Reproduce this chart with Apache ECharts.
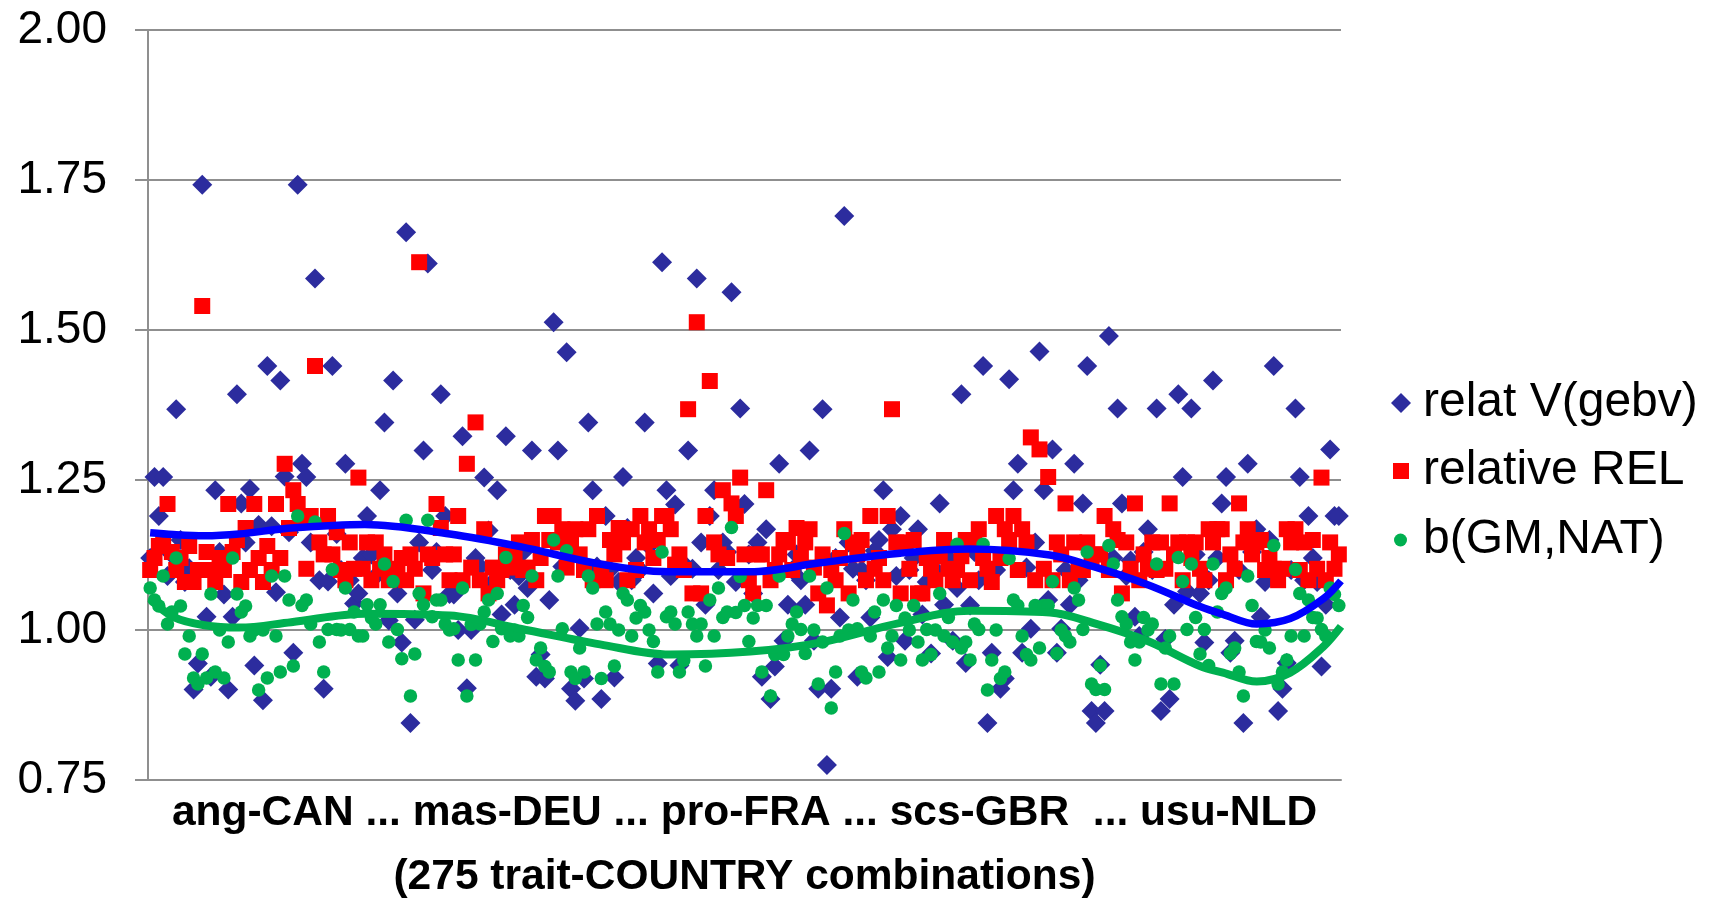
<!DOCTYPE html>
<html><head><meta charset="utf-8">
<script src="https://cdn.jsdelivr.net/npm/echarts/dist/echarts.min.js"></script>
<style>html,body{margin:0;padding:0;background:#fff}#c{width:1717px;height:898px}</style>
</head><body><div id="c"></div>
<script>
const xLabelText = 'ang-CAN ... mas-DEU ... pro-FRA ... scs-GBR  ... usu-NLD';
const xTitleText = '(275 trait-COUNTRY combinations)';
const seriesNames = ['relat V(gebv)', 'relative REL', 'b(GM,NAT)'];
const yTicks = [0.75, 1.00, 1.25, 1.50, 1.75, 2.00];

const relatV = [
1.12,1.255,1.19,1.255,1.09,1.126,1.368,1.15,1.08,1.103,
0.901,0.944,1.742,1.022,0.922,1.233,1.13,1.059,0.901,1.022,
1.393,1.211,1.146,1.235,0.941,1.175,0.883,1.44,1.173,1.063,
1.416,1.256,1.163,0.962,1.742,1.277,1.255,1.146,1.586,1.083,
0.902,1.081,1.44,1.16,1.10,1.277,1.083,1.044,1.061,1.12,
1.19,1.126,1.09,1.233,1.346,1.016,1.416,1.061,0.979,1.663,
0.845,1.017,1.146,1.299,1.611,1.10,1.13,1.393,1.19,1.06,
1.059,1.0,1.323,0.903,1.0,1.12,1.106,1.254,1.166,1.08,
1.233,1.026,1.323,1.10,1.042,1.09,1.13,1.07,1.299,0.922,
0.959,0.919,1.05,1.513,1.299,1.106,1.463,0.902,0.882,1.003,
0.919,1.346,1.233,1.106,0.885,1.19,1.10,0.921,1.08,1.255,
1.17,1.083,1.12,1.10,1.346,1.14,1.061,0.944,1.613,1.233,
1.09,1.209,0.941,1.11,1.299,1.102,1.586,1.146,1.042,1.19,
1.233,1.10,1.146,1.13,1.563,1.08,1.369,1.21,1.126,1.061,
1.146,0.922,1.168,0.885,0.939,1.277,0.982,1.042,1.10,1.126,
1.083,1.042,1.299,0.982,0.902,1.368,0.775,0.902,1.12,1.021,
1.69,1.146,1.102,0.922,1.10,1.083,1.021,1.132,1.15,1.233,
0.955,1.168,1.09,1.19,0.982,1.10,1.12,1.168,1.026,1.08,
0.961,1.10,1.211,1.042,1.12,0.982,1.07,1.393,0.945,1.041,
1.13,1.083,1.44,0.845,0.962,1.10,0.902,0.919,1.418,1.233,
1.277,0.962,1.104,1.002,1.146,1.464,1.233,1.05,1.301,0.962,
1.002,1.10,1.042,1.277,1.083,1.211,1.44,0.865,0.845,0.942,
0.865,1.49,1.12,1.369,1.211,1.09,1.116,1.022,0.99,1.13,
1.168,1.10,1.369,0.865,0.985,0.885,1.042,1.393,1.255,1.064,
1.369,1.126,1.061,0.979,1.083,1.416,1.12,1.211,1.255,0.962,
0.982,1.10,0.845,1.277,1.13,1.168,1.022,1.08,1.15,1.44,
0.865,0.902,0.945,1.10,1.369,1.255,1.083,1.19,1.12,1.08,
0.939,1.042,1.301,1.19,1.19
];

const relREL = [
1.10,1.12,1.14,1.15,1.21,1.13,1.10,1.12,1.08,1.14,
1.08,1.10,1.54,1.13,1.10,1.08,1.12,1.10,1.21,1.13,
1.15,1.08,1.17,1.10,1.21,1.12,1.08,1.14,1.10,1.21,
1.12,1.277,1.17,1.233,1.21,1.19,1.102,1.19,1.44,1.146,
1.126,1.19,1.126,1.163,1.10,1.083,1.146,1.102,1.254,1.102,
1.146,1.083,1.146,1.102,1.126,1.083,1.10,1.102,1.12,1.083,
1.126,1.102,1.613,1.061,1.126,1.12,1.21,1.17,1.126,1.083,
1.126,1.19,1.083,1.277,1.104,1.346,1.083,1.168,1.061,1.104,
1.083,1.10,1.126,1.104,1.12,1.146,1.10,1.104,1.15,1.083,
1.12,1.19,1.15,1.19,1.146,1.168,1.104,1.15,1.168,1.126,
1.10,1.168,1.083,1.19,1.102,1.083,1.15,1.126,1.17,1.146,
1.083,1.168,1.10,1.19,1.146,1.168,1.12,1.15,1.19,1.19,
1.168,1.109,1.126,1.10,1.368,1.061,1.513,1.061,1.19,1.415,
1.146,1.126,1.233,1.12,1.211,1.19,1.254,1.126,1.083,1.061,
1.126,1.126,1.233,1.083,1.10,1.126,1.15,1.146,1.10,1.17,
1.12,1.146,1.168,1.104,1.061,1.126,1.041,1.10,1.083,1.12,
1.168,1.061,1.146,1.126,1.15,1.083,1.19,1.102,1.12,1.083,
1.19,1.368,1.146,1.061,1.146,1.102,1.15,1.061,1.061,1.12,
1.102,1.083,1.123,1.15,1.102,1.083,1.10,1.123,1.15,1.083,
1.146,1.168,1.12,1.102,1.08,1.19,1.12,1.168,1.15,1.19,
1.10,1.168,1.146,1.321,1.083,1.301,1.102,1.255,1.083,1.146,
1.126,1.211,1.083,1.146,1.102,1.10,1.146,1.12,1.126,1.126,
1.19,1.10,1.168,1.15,1.061,1.146,1.102,1.211,1.083,1.126,
1.102,1.146,1.10,1.146,1.102,1.211,1.126,1.146,1.083,1.146,
1.12,1.146,1.102,1.083,1.168,1.146,1.168,1.168,1.083,1.126,
1.102,1.211,1.146,1.168,1.126,1.146,1.15,1.10,1.12,1.102,
1.083,1.102,1.168,1.146,1.168,1.10,1.146,1.083,1.15,1.102,
1.254,1.083,1.146,1.102,1.126
];

const bGMNAT = [
1.07,1.05,1.04,1.09,1.01,1.03,1.12,1.04,0.96,0.99,
0.92,0.91,0.96,0.92,1.06,0.93,1.00,0.92,0.98,1.12,
1.06,1.03,1.04,0.99,1.00,0.90,1.00,0.92,1.09,0.99,
0.93,1.09,1.05,0.94,1.19,1.041,1.05,1.01,1.18,0.98,
0.93,1.001,1.101,1.001,1.00,1.07,1.001,1.03,0.99,0.99,
1.042,1.02,1.01,1.042,1.11,0.98,1.081,1.001,0.952,1.183,
0.89,0.96,1.061,1.042,1.183,1.022,1.05,1.05,1.01,1.00,
1.002,0.95,1.07,0.89,1.009,0.95,1.01,1.03,1.05,0.981,
1.061,1.002,1.121,0.99,1.00,0.99,1.041,1.021,1.09,0.95,
0.97,0.939,0.93,1.15,1.09,1.002,1.132,0.93,0.919,0.97,
0.93,1.09,1.07,1.01,0.919,1.03,1.01,0.94,1.00,1.061,
1.05,0.99,1.02,1.041,1.03,1.00,0.981,0.93,1.13,1.022,
1.03,1.01,0.93,0.949,1.03,1.01,0.99,1.01,0.94,1.05,
0.99,1.07,1.021,1.03,1.171,1.029,1.089,1.041,0.981,1.02,
1.041,0.93,1.041,0.89,0.959,1.09,0.959,0.99,1.01,1.03,
1.001,0.961,1.09,1.00,0.91,0.98,1.07,0.87,0.93,0.99,
1.161,1.00,1.05,1.002,0.93,0.92,0.99,1.03,0.93,1.05,
0.97,0.99,1.041,0.95,1.02,1.00,1.041,0.98,0.95,1.001,
0.959,1.00,1.061,0.99,1.021,0.98,1.143,0.97,0.98,0.95,
1.01,1.001,1.143,0.90,0.95,1.00,0.919,0.93,1.119,1.05,
1.041,0.99,0.959,0.95,1.041,0.97,1.041,1.041,1.081,0.961,
1.00,0.99,0.98,1.07,1.05,1.001,1.13,0.91,0.901,0.941,
0.901,1.141,1.11,1.05,1.022,1.01,0.98,0.95,0.98,1.021,
1.00,1.01,1.11,0.91,0.97,0.99,0.91,1.121,1.081,1.001,
1.11,1.021,0.96,1.001,0.941,1.11,1.03,1.061,1.07,0.961,
0.97,0.93,0.89,1.09,1.041,0.981,0.98,1.00,0.97,1.141,
0.91,0.93,0.95,0.99,1.101,1.061,0.99,1.05,1.021,1.02,
1.001,0.99,1.07,1.059,1.041
];

// trend lines (x in combination-index units)
const trendX      = [0.5, 5.8, 13, 21, 33, 50, 69.6, 85.8, 104.2, 120.3, 138.8, 154.9, 173.4, 189.5, 207.9, 217.8, 230.3, 242.5, 247.8, 255.6, 263.3, 270.9, 275];
const trendRelatV = [1.162,1.159,1.157,1.160,1.170,1.176,1.160,1.139,1.110,1.097,1.097,1.112,1.128,1.135,1.125,1.106,1.076,1.039,1.026,1.010,1.019,1.052,1.082];
const trendB      = [1.052,1.022,1.008,1.004,1.013,1.027,1.024,1.002,0.976,0.959,0.964,0.979,1.012,1.032,1.029,1.012,0.982,0.940,0.929,0.914,0.929,0.972,1.006];

const FONT = '"Liberation Sans", Arial, Helvetica, sans-serif';
const GRID = '#8f8f8f';
const N = relatV.length;

const toPts = arr => arr.map((v, i) => [i + 0.5, v]);
const toTrend = arr => arr.map((v, k) => [trendX[k], v]);

const chart = echarts.init(document.getElementById('c'), null, {renderer: 'canvas'});
const gridL = 148, gridR = 1717 - 1341, gridT = 30, gridB = 898 - 780;
const cx = gridL + (1717 - gridL - gridR) / 2;
const LEG_FS = 48;

chart.setOption({
  backgroundColor: '#ffffff',
  animation: false,
  grid: {left: gridL, right: gridR, top: gridT, bottom: gridB, containLabel: false, outerBoundsMode: 'none'},
  xAxis: {
    type: 'value', min: 0, max: N,
    axisLine: {show: true, lineStyle: {color: GRID, width: 2}},
    axisTick: {show: false}, axisLabel: {show: false}, splitLine: {show: false}
  },
  yAxis: {
    type: 'value', min: yTicks[0], max: yTicks[yTicks.length - 1], interval: yTicks[1] - yTicks[0],
    axisLine: {show: true, lineStyle: {color: GRID, width: 2}},
    axisTick: {show: true, length: 13, lineStyle: {color: GRID, width: 2}},
    axisLabel: {formatter: v => v.toFixed(2), fontSize: 46, fontFamily: FONT, color: '#000', margin: 41},
    splitLine: {show: true, lineStyle: {color: GRID, width: 2}}
  },
  legend: [
    {data: [{name: seriesNames[0], icon: 'diamond'}], left: 1391, top: 379, itemWidth: 20, itemHeight: 20, padding: 0, selectedMode: false,
     textStyle: {fontSize: LEG_FS, fontFamily: FONT, color: '#000', padding: [0, 0, 0, 7]}},
    {data: [{name: seriesNames[1], icon: 'rect'}], left: 1393, top: 447, itemWidth: 16, itemHeight: 16, padding: 0, selectedMode: false,
     textStyle: {fontSize: LEG_FS, fontFamily: FONT, color: '#000', padding: [0, 0, 0, 9]}},
    {data: [{name: seriesNames[2], icon: 'circle'}], left: 1394, top: 516, itemWidth: 13, itemHeight: 13, padding: 0, selectedMode: false,
     textStyle: {fontSize: LEG_FS, fontFamily: FONT, color: '#000', padding: [0, 0, 0, 11]}}
  ],
  graphic: [
    {type: 'text', x: cx, y: 813, style: {text: xLabelText, font: 'bold 42.5px ' + FONT, fill: '#000', align: 'center', verticalAlign: 'middle'}},
    {type: 'text', x: cx, y: 877, style: {text: xTitleText, font: 'bold 42.5px ' + FONT, fill: '#000', align: 'center', verticalAlign: 'middle'}}
  ],
  series: [
    {name: seriesNames[0], type: 'scatter', data: toPts(relatV), symbol: 'diamond', symbolSize: 20,
     itemStyle: {color: '#2c2c9e', opacity: 1}, emphasis: {disabled: true}},
    {name: 'trend V', type: 'line', data: toTrend(trendRelatV), smooth: 0.35, showSymbol: false, symbol: 'none',
     lineStyle: {color: '#0000ff', width: 7.5}, itemStyle: {color: '#0000ff'}, silent: true, emphasis: {disabled: true}},
    {name: seriesNames[1], type: 'scatter', data: toPts(relREL), symbol: 'rect', symbolSize: 16,
     itemStyle: {color: '#ff0000', opacity: 1}, emphasis: {disabled: true}},
    {name: seriesNames[2], type: 'scatter', data: toPts(bGMNAT), symbol: 'circle', symbolSize: 13.5,
     itemStyle: {color: '#00b050', opacity: 1}, emphasis: {disabled: true}},
    {name: 'trend b', type: 'line', data: toTrend(trendB), smooth: 0.35, showSymbol: false, symbol: 'none',
     lineStyle: {color: '#00b050', width: 8}, itemStyle: {color: '#00b050'}, silent: true, emphasis: {disabled: true}}
  ]
});
</script>
</body></html>
